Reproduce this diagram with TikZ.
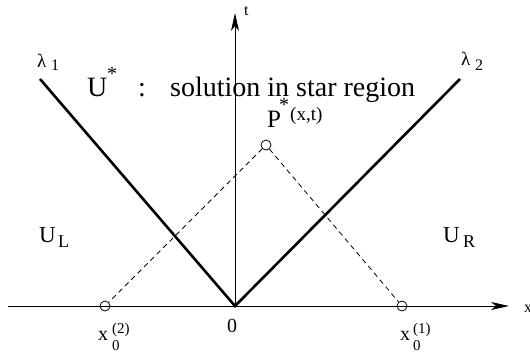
\documentclass[tikz,border=0pt]{standalone}
\usepackage{fontspec}
\setmainfont{Liberation Serif}
\usetikzlibrary{arrows.meta}
\newcommand{\fs}[1]{\fontsize{#1}{#1}\selectfont}
\begin{document}
\begin{tikzpicture}[x=1pt,y=-1pt,
  lbl/.style={inner sep=0pt, anchor=base west},
  thickline/.style={line width=2.6pt, line join=miter},
  axis/.style={line width=0.9pt, -{Stealth[length=18pt,width=8pt,inset=5pt]}},
  dashline/.style={line width=0.8pt, dash pattern=on 5pt off 4pt},
  ptc/.style={circle, draw, line width=0.8pt, minimum size=10pt, inner sep=0pt}]
\useasboundingbox (0,0) rectangle (530,351);
% geometry
\coordinate (O) at (235,306);
\coordinate (xs) at (8,306);
\coordinate (xe) at (509,306);
\coordinate (te) at (235,13);
\coordinate (L1) at (40,79);
\coordinate (L2) at (460,79);
\node[ptc] (P) at (266,145) {};
\node[ptc] (X2) at (105,306) {};
\node[ptc] (X1) at (402,306) {};
\draw[axis] (xs) -- (xe);
\draw[axis] (O) -- (te);
\draw[thickline] (L1) -- (O) -- (L2);
\draw[dashline] (P) -- (X2);
\draw[dashline] (P) -- (X1);
% labels
\node[lbl, font=\fs{28}] (U) at (87,96.5) {U};
\node[lbl, font=\fs{20}] (Us) at (107,80) {*};
\node[lbl, font=\fs{28}] (col) at (138,96.5) {:};
\node[lbl, font=\fs{28}] (sol) at (170,96.5) {solution in star region};
\node[lbl, font=\fs{19}] (lam1) at (37,67) {λ};
\node[lbl, font=\fs{16}] (lam1s) at (51,70) {1};
\node[lbl, font=\fs{19}] (lam2) at (461,65) {λ};
\node[lbl, font=\fs{16}] (lam2s) at (475,70) {2};
\node[lbl, font=\fs{16}] (tl) at (244,15) {t};
\node[lbl, font=\fs{16}] (xl) at (524,312) {x};
\node[lbl, font=\fs{20}] (zero) at (227,332) {0};
\node[lbl, font=\fs{20}] (x2l) at (98,340) {x};
\node[lbl, font=\fs{15}] (x2s) at (112,350) {0};
\node[lbl, font=\fs{15}] (x2p) at (112,333) {(2)};
\node[lbl, font=\fs{20}] (x1l) at (400,340) {x};
\node[lbl, font=\fs{15}] (x1s) at (413,350) {0};
\node[lbl, font=\fs{15}] (x1p) at (413,333) {(1)};
\node[lbl, font=\fs{23}] (UL) at (39,242) {U};
\node[lbl, font=\fs{18}] (ULs) at (58,247) {L};
\node[lbl, font=\fs{23}] (UR) at (443,242) {U};
\node[lbl, font=\fs{18}] (URs) at (463,247) {R};
\node[lbl, font=\fs{25}] (Pl) at (267,127) {P};
\node[lbl, font=\fs{20}] (Ps) at (279,111) {*};
\node[lbl, font=\fs{19}] (Pxt) at (290,120) {(x,t)};
\end{tikzpicture}
\end{document}
